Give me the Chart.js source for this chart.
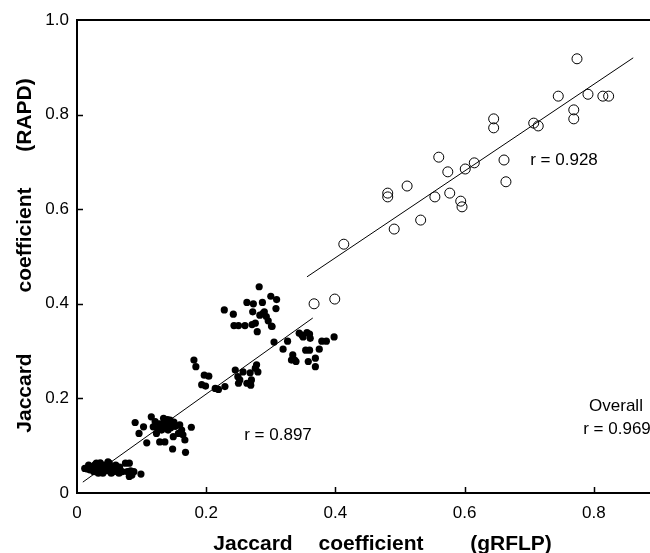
<!doctype html>
<html>

<head>
  <meta charset="utf-8">
  <title>Jaccard coefficient RAPD vs gRFLP</title>
  <style>
    body { margin: 0; background: #fff; }
    canvas { display: block; }
  </style>
</head>

<body>
  <canvas id="myChart" width="650" height="553"></canvas>

  <script type="text/javascript" src="https://cdn.jsdelivr.net/npm/chart.js"></script>
  <script>
    // tick labels
    const xTicks = [0, 0.2, 0.4, 0.6, 0.8];
    const yTicks = [0, 0.2, 0.4, 0.6, 0.8, 1.0];

    // filled dots
    const filledX = [
      0.012, 0.016, 0.017, 0.018, 0.020, 0.023, 0.026, 0.028, 0.030, 0.031, 0.033, 0.035, 0.036, 0.038,
      0.040, 0.042, 0.043, 0.045, 0.047, 0.048, 0.050, 0.052, 0.053, 0.055, 0.057, 0.060, 0.062, 0.065,
      0.066, 0.070, 0.075, 0.078, 0.081, 0.083, 0.085, 0.088, 0.099, 0.081,
      0.090, 0.096, 0.103, 0.108, 0.115, 0.121, 0.126, 0.128, 0.134, 0.136, 0.139, 0.141, 0.144, 0.146,
      0.136, 0.148, 0.152, 0.157, 0.159, 0.162, 0.164, 0.167, 0.168, 0.177, 0.123, 0.131, 0.149, 0.118,
      0.138, 0.142, 0.133, 0.145, 0.140, 0.128, 0.150,
      0.181, 0.184, 0.197, 0.204, 0.193, 0.199, 0.214, 0.219, 0.229, 0.245, 0.249, 0.252, 0.268, 0.257,
      0.270, 0.263, 0.276, 0.278, 0.269, 0.280, 0.250,
      0.282, 0.228, 0.242, 0.263, 0.273, 0.287, 0.300, 0.309, 0.308, 0.272, 0.288, 0.293, 0.296, 0.301,
      0.243, 0.250, 0.260, 0.271, 0.276, 0.279, 0.283, 0.290,
      0.302, 0.305, 0.319, 0.326, 0.334, 0.337, 0.332, 0.339, 0.344, 0.348, 0.350, 0.356, 0.360, 0.361,
      0.354, 0.360, 0.358, 0.369, 0.369, 0.375, 0.379, 0.386, 0.398
    ];
    const filledY = [
      0.052, 0.051, 0.052, 0.059, 0.049, 0.056, 0.045, 0.060, 0.063, 0.052, 0.042, 0.057, 0.064, 0.049,
      0.042, 0.055, 0.059, 0.052, 0.047, 0.066, 0.063, 0.056, 0.042, 0.052, 0.045, 0.059, 0.049, 0.042,
      0.055, 0.045, 0.063, 0.045, 0.035, 0.047, 0.038, 0.045, 0.040, 0.063,
      0.149, 0.126, 0.140, 0.106, 0.161, 0.151, 0.137, 0.108, 0.158, 0.148, 0.141, 0.133, 0.154, 0.144,
      0.108, 0.093, 0.141, 0.126, 0.144, 0.133, 0.123, 0.112, 0.086, 0.139, 0.126, 0.133, 0.119, 0.140,
      0.150, 0.146, 0.143, 0.138, 0.155, 0.146, 0.150,
      0.281, 0.267, 0.249, 0.247, 0.229, 0.226, 0.221, 0.219, 0.225, 0.260, 0.246, 0.239, 0.254, 0.256,
      0.239, 0.232, 0.264, 0.271, 0.228, 0.256, 0.232,
      0.436, 0.387, 0.378, 0.403, 0.400, 0.403, 0.416, 0.409, 0.390, 0.383, 0.380, 0.373, 0.364, 0.353,
      0.354, 0.354, 0.354, 0.356, 0.359, 0.341, 0.376, 0.383,
      0.352, 0.319, 0.304, 0.321, 0.292, 0.281, 0.281, 0.278, 0.338, 0.334, 0.330, 0.339, 0.336, 0.327,
      0.302, 0.302, 0.278, 0.285, 0.267, 0.304, 0.321, 0.321, 0.330
    ];

    // open circles
    const openX = [
      0.367, 0.399, 0.413, 0.491, 0.532, 0.481, 0.481, 0.511, 0.554, 0.560, 0.574, 0.577, 0.594, 0.596,
      0.601, 0.615, 0.645, 0.645, 0.661, 0.664, 0.707, 0.714, 0.745, 0.769, 0.769, 0.774, 0.791, 0.814, 0.823
    ];
    const openY = [
      0.400, 0.410, 0.526, 0.558, 0.577, 0.634, 0.626, 0.649, 0.626, 0.710, 0.679, 0.634, 0.617, 0.605,
      0.685, 0.698, 0.791, 0.772, 0.704, 0.658, 0.782, 0.776, 0.839, 0.810, 0.791, 0.918, 0.843, 0.839, 0.839
    ];

    // regression lines (end points)
    const fitFilledX = [0.009, 0.365];
    const fitFilledY = [0.023, 0.370];
    const fitOpenX = [0.356, 0.861];
    const fitOpenY = [0.457, 0.920];

    const font = '"Liberation Sans", Arial, Helvetica, sans-serif';
    const pts = (xs, ys) => xs.map((x, i) => ({ x: x, y: ys[i] }));
    const fmt = (v) => (v === 0 ? '0' : v.toFixed(1));

    const axisDecor = {
      id: 'axisDecor',
      afterDraw(chart) {
        const { ctx, chartArea: a, scales } = chart;
        ctx.save();
        ctx.strokeStyle = '#000';
        // top frame line
        ctx.lineWidth = 2;
        ctx.beginPath();
        ctx.moveTo(a.left - 1, a.top);
        ctx.lineTo(a.right, a.top);
        ctx.stroke();
        // inward ticks
        ctx.lineWidth = 1.5;
        ctx.beginPath();
        yTicks.slice(1, -1).forEach((v) => {
          const py = Math.round(scales.y.getPixelForValue(v)) + 0.5;
          ctx.moveTo(a.left, py);
          ctx.lineTo(a.left + 6, py);
        });
        xTicks.slice(1).forEach((v) => {
          const px = Math.round(scales.x.getPixelForValue(v)) + 0.5;
          ctx.moveTo(px, a.bottom);
          ctx.lineTo(px, a.bottom - 6);
        });
        ctx.stroke();

        // annotations
        ctx.fillStyle = '#000';
        ctx.font = '17px ' + font;
        ctx.textAlign = 'center';
        ctx.textBaseline = 'middle';
        ctx.fillText('r = 0.928', 564, 160);
        ctx.fillText('r = 0.897', 278, 435);
        ctx.fillText('Overall', 616, 406);
        ctx.fillText('r = 0.969', 617, 429);

        // axis titles
        ctx.font = 'bold 21px ' + font;
        ctx.textBaseline = 'alphabetic';
        [['Jaccard', 253], ['coefficient', 371], ['(gRFLP)', 511]].forEach(([t, x]) => {
          ctx.fillText(t, x, 550);
        });
        ctx.translate(31, 0);
        ctx.rotate(-Math.PI / 2);
        [['Jaccard', 393], ['coefficient', 240], ['(RAPD)', 115]].forEach(([t, y]) => {
          ctx.fillText(t, -y, 0);
        });
        ctx.restore();
      }
    };

    const data = {
      datasets: [
        {
          label: 'filled',
          data: pts(filledX, filledY),
          pointRadius: 3.6,
          pointBackgroundColor: '#000',
          pointBorderColor: '#000',
          pointBorderWidth: 0
        },
        {
          label: 'open',
          data: pts(openX, openY),
          pointRadius: 5,
          pointBackgroundColor: 'rgba(255,255,255,0)',
          pointBorderColor: '#000',
          pointBorderWidth: 1
        },
        {
          label: 'fit filled',
          data: pts(fitFilledX, fitFilledY),
          showLine: true,
          borderColor: '#000',
          borderWidth: 1,
          pointRadius: 0
        },
        {
          label: 'fit open',
          data: pts(fitOpenX, fitOpenY),
          showLine: true,
          borderColor: '#000',
          borderWidth: 1,
          pointRadius: 0
        }
      ]
    };

    const config = {
      type: 'scatter',
      data,
      options: {
        responsive: false,
        animation: false,
        devicePixelRatio: 1,
        layout: { autoPadding: false, padding: { top: 20, right: 0, left: 0, bottom: 0 } },
        scales: {
          x: {
            type: 'linear',
            min: 0,
            max: 0.887,
            afterBuildTicks: (s) => { s.ticks = xTicks.map((v) => ({ value: v })); },
            afterFit: (s) => { s.height = 60; s.paddingRight = 0; s.paddingLeft = 0; },
            grid: { display: false, drawTicks: false },
            border: { display: true, color: '#000', width: 2 },
            ticks: {
              padding: 10,
              color: '#000',
              font: { family: font, size: 17 },
              maxRotation: 0,
              callback: fmt
            }
          },
          y: {
            type: 'linear',
            min: 0,
            max: 1,
            afterBuildTicks: (s) => { s.ticks = yTicks.map((v) => ({ value: v })); },
            afterFit: (s) => { s.width = 77; },
            grid: { display: false, drawTicks: false },
            border: { display: true, color: '#000', width: 2 },
            ticks: {
              padding: 8,
              color: '#000',
              font: { family: font, size: 17 },
              callback: fmt
            }
          }
        },
        plugins: {
          legend: { display: false },
          tooltip: { enabled: false }
        }
      },
      plugins: [axisDecor]
    };

    const myChart = new Chart(
      document.getElementById('myChart'),
      config
    );
  </script>
</body>

</html>
